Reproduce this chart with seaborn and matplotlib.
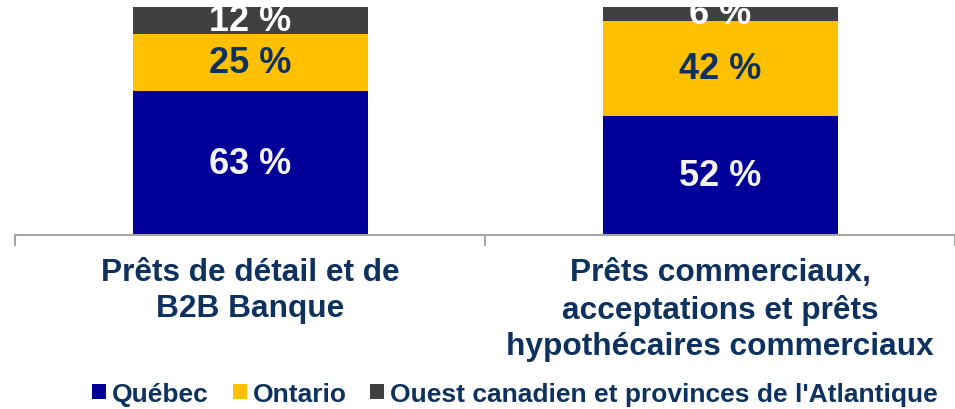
import numpy as np
import pandas as pd
import matplotlib
matplotlib.use("Agg")
import matplotlib.pyplot as plt
from matplotlib.patches import Patch
import seaborn as sns

# data
categories = ["Prêts de détail et de\nB2B Banque",
              "Prêts commerciaux,\nacceptations et prêts\nhypothécaires commerciaux"]
quebec = [63, 52]
ontario = [25, 42]
ouest = [12, 6]
series_names = ["Québec", "Ontario", "Ouest canadien et provinces de l'Atlantique"]
colors = ["#000099", "#FFC000", "#404040"]
label_colors = ["#F2F2F2", "#0E3260", "#FFFFFF"]
navy = "#0E3260"

sns.set_style("white")
plt.rcParams['font.family'] = ['Liberation Sans', 'DejaVu Sans']

fig = plt.figure(figsize=(9.55, 4.1), dpi=100)
ax = fig.add_axes([15/955, 174/410, 940/955, 228/410])

df = pd.DataFrame({"cat": categories, "Québec": quebec,
                   "Ontario": ontario, "Ouest": ouest})

# stacked bars: each series sits on the sum of the previous ones
bottoms = np.zeros(len(categories))
for col, name, c, lc in zip(["Québec", "Ontario", "Ouest"], series_names, colors, label_colors):
    sns.barplot(data=df, x="cat", y=col, color=c, width=0.5, bottom=bottoms,
                saturation=1, ax=ax, edgecolor="none")
    cont = ax.containers[-1]
    ax.bar_label(cont, labels=[f"{v} %" for v in df[col]], label_type="center",
                 color=lc, fontsize=26, fontweight="bold", clip_on=True)
    bottoms = bottoms + df[col].values

ax.set_ylim(0, 100)
ax.set_xlim(-0.5, 1.5)
ax.set_ylabel("")
ax.set_xlabel("")
ax.set_yticks([])
for s in ["top", "left", "right"]:
    ax.spines[s].set_visible(False)
ax.spines["bottom"].set_color("#A6A6A6")
ax.spines["bottom"].set_linewidth(1.5)

ax.set_xticks([0, 1])
ax.set_xticklabels(categories, fontsize=22.8, fontweight="bold", color=navy,
                   linespacing=1.27)
ax.tick_params(axis="x", which="major", bottom=True, length=0, pad=16)
ax.set_xticks([-0.5, 0.5, 1.5], minor=True)
ax.tick_params(axis="x", which="minor", bottom=True, length=8, width=1.5,
               color="#A6A6A6", direction="out")

handles = [Patch(facecolor=c, edgecolor="none") for c in colors]
leg = fig.legend(handles, series_names, loc="center left",
                 bbox_to_anchor=(92/955, 15/410), ncol=3, frameon=False,
                 borderaxespad=0, borderpad=0,
                 handlelength=0.53, handleheight=0.53, handletextpad=0.23,
                 columnspacing=0.9, prop={"size": 19, "weight": "bold"})
for t in leg.get_texts():
    t.set_color(navy)

fig.savefig("out.png", dpi=100)
